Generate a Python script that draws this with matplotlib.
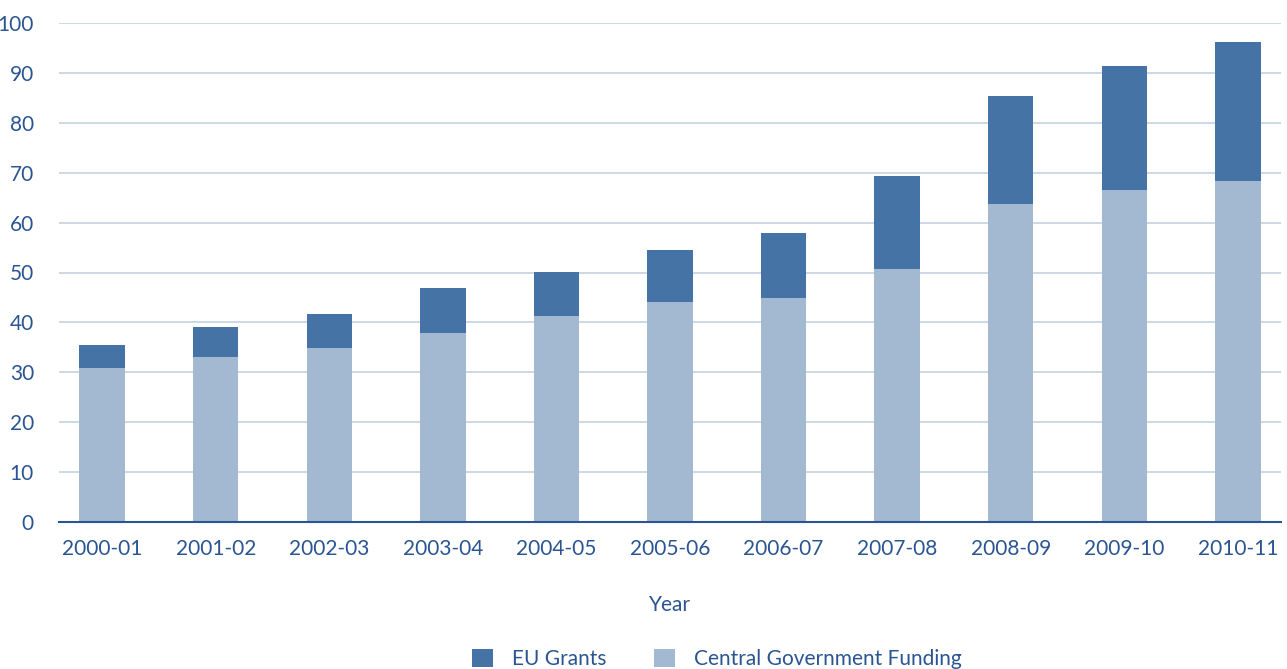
import matplotlib.pyplot as plt
import numpy as np

# Data
years = ["2000-01", "2001-02", "2002-03", "2003-04", "2004-05", "2005-06",
         "2006-07", "2007-08", "2008-09", "2009-10", "2010-11"]
central_funding = [30.9, 33.1, 34.8, 37.9, 41.2, 44.0, 44.9, 50.8, 63.7, 66.6, 68.3]
eu_grants = [4.6, 5.9, 6.8, 8.9, 9.0, 10.6, 13.1, 18.5, 21.6, 24.7, 27.8]

TEXT = "#2A5592"
DARK = "#4573A5"
LIGHT = "#A3B9D1"
GRID = "#C8D5E3"

plt.rcParams["font.family"] = ["Lato", "DejaVu Sans"]

fig = plt.figure(figsize=(12.87, 6.69), dpi=100)
ax = fig.add_axes([59 / 1287, 1 - 522 / 669, (1281 - 59) / 1287, (522 - 23) / 669])

x = np.arange(len(years))
ax.bar(x, central_funding, width=0.4, color=LIGHT, zorder=2,
       label="Central Government Funding")
ax.bar(x, eu_grants, width=0.4, bottom=central_funding, color=DARK, zorder=2,
       label="EU Grants")

ax.set_xlim(-0.38, len(years) - 1 + 0.38)
ax.set_ylim(0, 100)
ax.set_yticks(range(0, 101, 10))
ax.set_xticks(x)
ax.set_xticklabels(years)
ax.tick_params(axis="both", length=0, labelsize=15, colors=TEXT)
ax.tick_params(axis="x", pad=12)
ax.tick_params(axis="y", pad=18)
ax.grid(axis="y", color=GRID, linewidth=1.3, zorder=0)
ax.set_axisbelow(True)

for side in ["top", "right", "left"]:
    ax.spines[side].set_visible(False)
ax.spines["bottom"].set_color(TEXT)
ax.spines["bottom"].set_linewidth(1.5)
ax.spines["bottom"].set_zorder(3)

ax.set_xlabel("Year", fontsize=15, color=TEXT, labelpad=26)

handles, labels = ax.get_legend_handles_labels()
fig.legend(handles[::-1], labels[::-1], loc="center", bbox_to_anchor=(0.557, 0.015),
           ncol=2, frameon=False, fontsize=15, labelcolor=TEXT,
           handlelength=1.0, handleheight=1.0, columnspacing=2.3, handletextpad=0.9)

fig.savefig("out.png", dpi=100)
